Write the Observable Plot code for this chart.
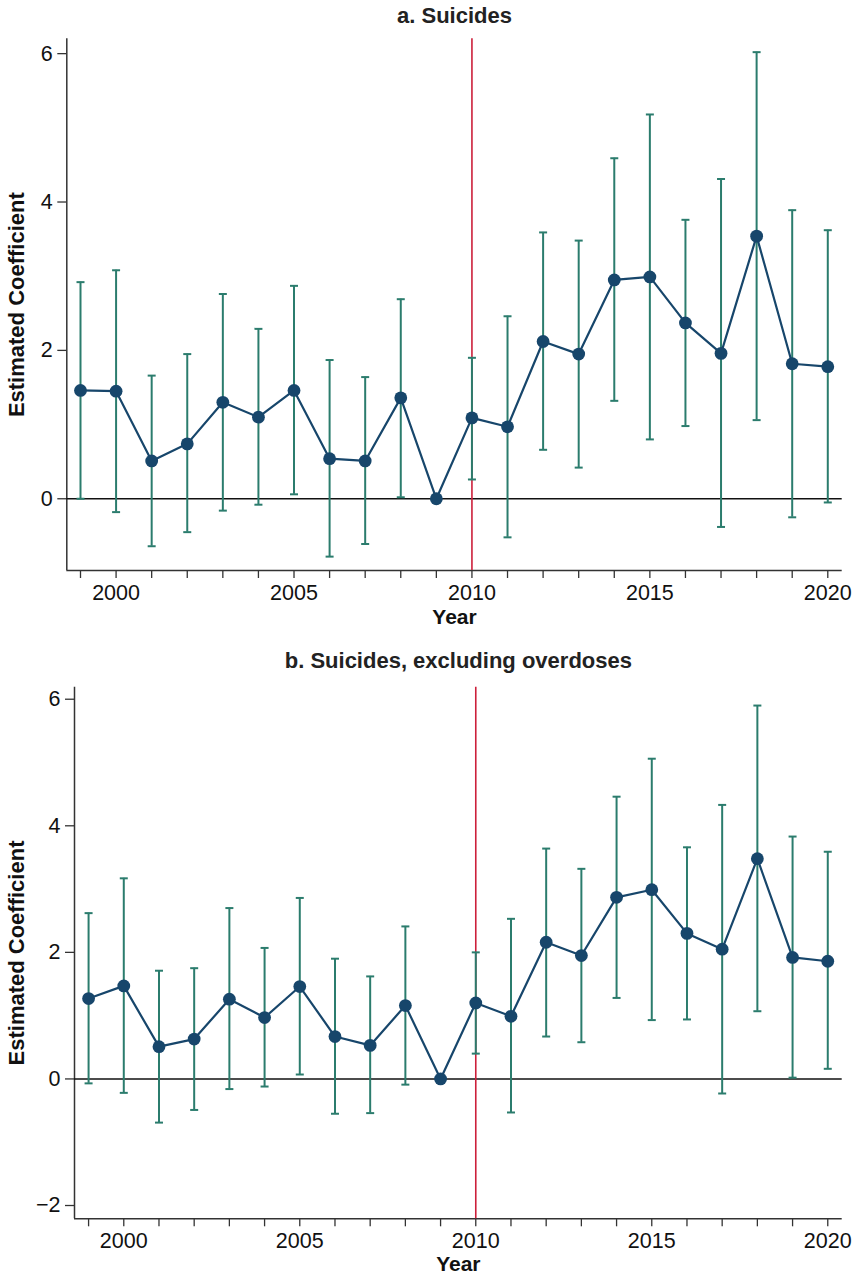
<!DOCTYPE html>
<html>
<head>
<meta charset="utf-8">
<script src="https://cdn.jsdelivr.net/npm/d3@7"></script>
<script src="https://cdn.jsdelivr.net/npm/@observablehq/plot@0.6"></script>
<style>
  html, body { margin: 0; padding: 0; background: #fff; }
  #chart { width: 856px; }
  #chart svg { display: block; }
</style>
</head>
<body>
<div id="chart"></div>
<script>
// ---- Data ----
const years = [1999, 2000, 2001, 2002, 2003, 2004, 2005, 2006, 2007, 2008, 2009, 2010,
               2011, 2012, 2013, 2014, 2015, 2016, 2017, 2018, 2019, 2020];
const labeledYears = [2000, 2005, 2010, 2015, 2020];
const policyYear = 2010;

const titleA = "a. Suicides";
const estA = [1.46, 1.45, 0.51, 0.74, 1.30, 1.10, 1.46, 0.54, 0.51, 1.36, 0, 1.09,
              0.97, 2.12, 1.95, 2.95, 2.99, 2.37, 1.96, 3.54, 1.82, 1.78];
const loA  = [0.00, -0.18, -0.64, -0.45, -0.16, -0.08, 0.06, -0.78, -0.61, 0.02, null, 0.26,
              -0.52, 0.66, 0.42, 1.32, 0.80, 0.98, -0.38, 1.06, -0.25, -0.05];
const hiA  = [2.92, 3.08, 1.66, 1.95, 2.76, 2.29, 2.87, 1.87, 1.64, 2.69, null, 1.90,
              2.46, 3.59, 3.48, 4.59, 5.18, 3.76, 4.31, 6.02, 3.89, 3.62];
const yTicksA = [0, 2, 4, 6];

const titleB = "b. Suicides, excluding overdoses";
const estB = [1.27, 1.47, 0.51, 0.63, 1.26, 0.97, 1.46, 0.67, 0.53, 1.16, 0, 1.20,
              0.99, 2.16, 1.95, 2.87, 2.99, 2.30, 2.05, 3.48, 1.92, 1.86];
const loB  = [-0.07, -0.22, -0.69, -0.49, -0.16, -0.12, 0.07, -0.55, -0.54, -0.09, null, 0.40,
              -0.53, 0.67, 0.58, 1.28, 0.93, 0.94, -0.23, 1.07, 0.02, 0.16];
const hiB  = [2.62, 3.17, 1.71, 1.75, 2.70, 2.07, 2.86, 1.90, 1.62, 2.41, null, 2.00,
              2.53, 3.64, 3.32, 4.46, 5.06, 3.66, 4.33, 5.90, 3.83, 3.59];
const yTicksB = [-2, 0, 2, 4, 6];

const xLabel = "Year";
const yLabel = "Estimated Coefficient";

// ---- Styles ----
const navy = "#17466b";
const teal = "#2b7c6d";
const red = "#cc1f3a";
const axisColor = "#333";
const font = "'Liberation Sans', Arial, Helvetica, sans-serif";

// horizontal cap symbol for error bars
const capSymbol = {
  draw(context, size) {
    const w = Math.sqrt(size / Math.PI);
    context.moveTo(-w, 0);
    context.lineTo(w, 0);
  }
};

function panel({title, est, lo, hi, yTicks, xDomain, yDomain, height, mt, mb, ml, mr, titleDy, yearDy, ylabDx}) {
  const data = years.map((y, i) => ({year: y, est: est[i], lo: lo[i], hi: hi[i]}));
  const ci = data.filter(d => d.lo != null && d.hi != null);
  return Plot.plot({
    width: 856,
    height,
    marginTop: mt,
    marginBottom: mb,
    marginLeft: ml,
    marginRight: mr,
    style: {fontFamily: font, fontSize: "21px", color: axisColor, background: "#fff", overflow: "visible"},
    x: {domain: xDomain},
    y: {domain: yDomain},
    marks: [
      Plot.axisX({ticks: years, tickFormat: d => labeledYears.includes(d) ? String(d) : "",
                  tickSize: 8, tickPadding: 6, label: null, stroke: axisColor, strokeWidth: 1.3,
                  fill: "#111", fontSize: 21.5}),
      Plot.axisY({ticks: yTicks, tickSize: 9, tickPadding: 5, label: null, stroke: axisColor,
                  strokeWidth: 1.3, fill: "#111", fontSize: 21.5}),
      Plot.ruleX([xDomain[0]], {stroke: axisColor, strokeWidth: 1.5}),
      Plot.ruleY([yDomain[0]], {stroke: axisColor, strokeWidth: 1.5}),
      Plot.ruleY([0], {stroke: "#111", strokeWidth: 1.6}),
      Plot.ruleX([policyYear], {stroke: red, strokeWidth: 1.6}),
      Plot.ruleX(ci, {x: "year", y1: "lo", y2: "hi", stroke: teal, strokeWidth: 2}),
      Plot.dot(ci, {x: "year", y: "hi", symbol: capSymbol, r: 4, stroke: teal, strokeWidth: 2, fill: "none"}),
      Plot.dot(ci, {x: "year", y: "lo", symbol: capSymbol, r: 4, stroke: teal, strokeWidth: 2, fill: "none"}),
      Plot.line(data, {x: "year", y: "est", stroke: navy, strokeWidth: 2.2}),
      Plot.dot(data, {x: "year", y: "est", r: 6.4, fill: navy, stroke: "none"}),
      Plot.text([title], {frameAnchor: "top", lineAnchor: "bottom", dy: titleDy,
                          fontSize: 22, fontWeight: "bold", fill: "#222"}),
      Plot.text([xLabel], {frameAnchor: "bottom", lineAnchor: "bottom", dy: yearDy,
                           fontSize: 21, fontWeight: "bold", fill: "#111"}),
      Plot.text([yLabel], {frameAnchor: "left", rotate: -90, dx: ylabDx, lineAnchor: "middle",
                           textAnchor: "middle", fontSize: 22, fontWeight: "bold", fill: "#111"})
    ]
  });
}

const root = document.getElementById("chart");
root.appendChild(panel({
  title: titleA, est: estA, lo: loA, hi: hiA, yTicks: yTicksA,
  xDomain: [1998.615, 2020.405], yDomain: [-0.967, 6.2],
  height: 637, mt: 38.3, mb: 67, ml: 66.3, mr: 14.3,
  titleDy: -15.5, yearDy: 53, ylabDx: -49.6
}));
root.appendChild(panel({
  title: titleB, est: estB, lo: loB, hi: hiB, yTicks: yTicksB,
  xDomain: [1998.6, 2020.41], yDomain: [-2.21, 6.19],
  height: 637, mt: 49.7, mb: 55.7, ml: 74, mr: 14.3,
  titleDy: -19.4, yearDy: 51.7, ylabDx: -57.3
}));
</script>
</body>
</html>
